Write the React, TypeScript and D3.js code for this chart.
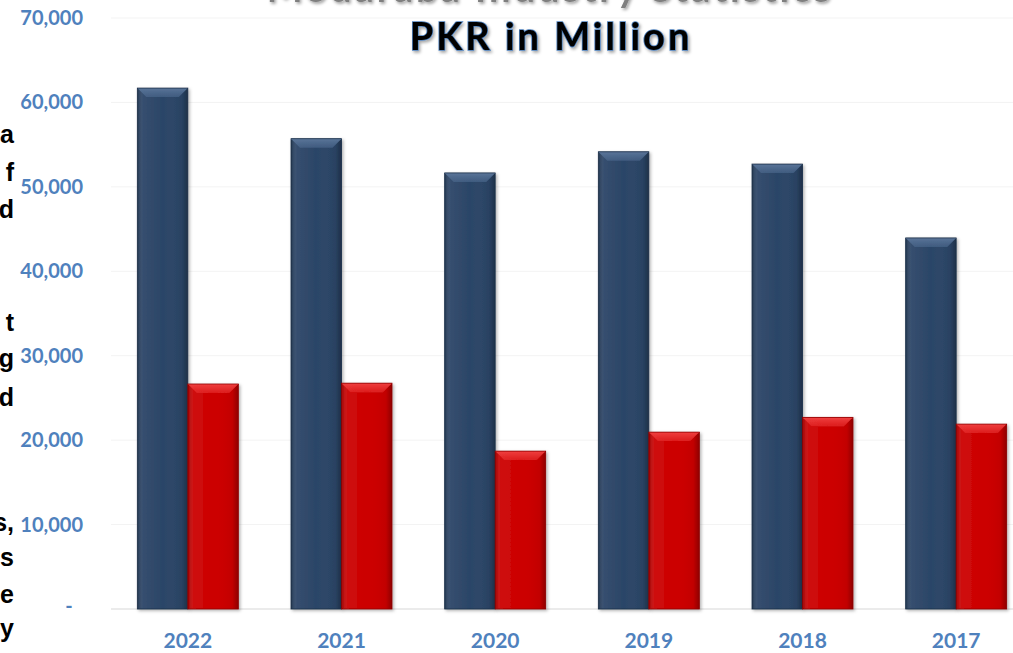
import React, { useEffect } from 'react';
import * as d3 from 'd3';

const years = ['2022', '2021', '2020', '2019', '2018', '2017'];
const seriesA = [61700, 55700, 51650, 54150, 52700, 43950];
const seriesB = [26650, 26750, 18700, 20950, 22700, 21900];
const yTicks = [0, 10000, 20000, 30000, 40000, 50000, 60000, 70000];
const sideLetters = [
  { t: 'a', y: 143 }, { t: 'f', y: 181 }, { t: 'd', y: 218 },
  { t: 't', y: 331 }, { t: 'g', y: 367 }, { t: 'd', y: 406 },
  { t: 's,', y: 531 }, { t: 's', y: 566 }, { t: 'e', y: 603 }, { t: 'y', y: 637 },
];

const W = 1013;
const H = 653;

const Bar = ({ x, y, w, h, base, light, dark, id }) => {
  const b = Math.min(9, w / 5, h / 2);
  return (
    <g filter="url(#barShadow)">
      <rect x={x} y={y} width={w} height={h} fill={base} />
      <rect x={x} y={y} width={w} height={h} fill={`url(#side-${id})`} />
      {/* bevel on the top */}
      <polygon
        points={`${x},${y} ${x + w},${y} ${x + w - b},${y + b} ${x + b},${y + b}`}
        fill={`url(#top-${id})`}
      />
      <line x1={x} x2={x + w} y1={y + 0.5} y2={y + 0.5} stroke={light} strokeWidth={1} />
      <rect x={x} y={y} width={w} height={h} fill="none" stroke={dark} strokeWidth={0.8} />
    </g>
  );
};

export default function App() {
  useEffect(() => {
    document.body.style.margin = '0';
  }, []);

  const x = d3.scaleBand().domain(years).range([111, 1033]);
  const y = d3.scaleLinear().domain([0, 70000]).range([609, 18]);
  const barW = 50.5;

  const fmt = (d) => (d === 0 ? '-' : d3.format(',')(d));

  const colors = {
    a: { base: '#2b4567', light: '#5a7599', dark: '#1b2f48', top: '#4d6a8f' },
    b: { base: '#cc0000', light: '#f04040', dark: '#8c0000', top: '#e83030' },
  };

  return (
    <svg width={W} height={H} style={{ display: 'block' }}>
      <defs>
        <filter id="barShadow" x="-20%" y="-5%" width="140%" height="110%">
          <feDropShadow dx="1.5" dy="1.5" stdDeviation="1.5" floodColor="#000" floodOpacity="0.3" />
        </filter>
        <filter id="textShadow" x="-5%" y="-20%" width="110%" height="150%">
          <feDropShadow dx="1.5" dy="2" stdDeviation="1.5" floodColor="#000" floodOpacity="0.35" />
        </filter>
        {['a', 'b'].map((k) => (
          <React.Fragment key={k}>
            <linearGradient id={`side-${k}`} x1="0" x2="1" y1="0" y2="0">
              <stop offset="0" stopColor="#000" stopOpacity="0.25" />
              <stop offset="0.12" stopColor="#fff" stopOpacity="0.05" />
              <stop offset="0.5" stopColor="#fff" stopOpacity="0" />
              <stop offset="0.88" stopColor="#000" stopOpacity="0.05" />
              <stop offset="1" stopColor="#000" stopOpacity="0.3" />
            </linearGradient>
            <linearGradient id={`top-${k}`} x1="0" x2="0" y1="0" y2="1">
              <stop offset="0" stopColor={colors[k].light} />
              <stop offset="1" stopColor={colors[k].top} stopOpacity="0.6" />
            </linearGradient>
          </React.Fragment>
        ))}
      </defs>
      <rect width={W} height={H} fill="#fff" />

      {/* gridlines */}
      {yTicks.map((t) => (
        <line key={t} x1={111} x2={W} y1={y(t)} y2={y(t)} stroke={t === 0 ? '#e4e4e4' : '#f3f3f3'} strokeWidth={t === 0 ? 1.5 : 1} />
      ))}

      {/* y tick labels */}
      {yTicks.map((t) => (
        <text
          key={t}
          x={83}
          y={y(t)}
          dy={t === 0 ? '0.2em' : '0.35em'}
          textAnchor={t === 0 ? 'middle' : 'end'}
          dx={t === 0 ? -14 : 0}
          fill="#4f81bd"
          fontFamily="Lato, 'Open Sans', sans-serif"
          fontWeight="bold"
          fontSize={20}
        >
          {fmt(t)}
        </text>
      ))}

      {/* bars */}
      {years.map((yr, i) => {
        const cx = x(yr) + x.bandwidth() / 2;
        return (
          <g key={yr}>
            <Bar id="a" x={cx - barW} y={y(seriesA[i])} w={barW} h={y(0) - y(seriesA[i])} {...colors.a} />
            <Bar id="b" x={cx} y={y(seriesB[i])} w={barW} h={y(0) - y(seriesB[i])} {...colors.b} />
          </g>
        );
      })}

      {/* x labels */}
      {years.map((yr) => (
        <text
          key={yr}
          x={x(yr) + x.bandwidth() / 2}
          y={648}
          textAnchor="middle"
          fill="#4f81bd"
          fontFamily="Lato, 'Open Sans', sans-serif"
          fontWeight="bold"
          fontSize={21}
        >
          {yr}
        </text>
      ))}

      {/* title (first line runs off the top, as in the source) */}
      <text
        x={550}
        y={2}
        textAnchor="middle"
        fill="#7f7f7f"
        fontFamily="Lato, sans-serif"
        fontWeight="bold"
        fontSize={38}
        letterSpacing={3}
        filter="url(#textShadow)"
      >
        Modaraba Industry Statistics
      </text>
      <text
        x={551}
        y={50}
        textAnchor="middle"
        fill="#000"
        stroke="#4f81bd"
        strokeWidth={1.6}
        paintOrder="stroke"
        fontFamily="Lato, sans-serif"
        fontWeight="bold"
        fontSize={38}
        letterSpacing={3}
        filter="url(#textShadow)"
      >
        PKR in Million
      </text>

      {/* text cut off from a neighbouring slide element */}
      {sideLetters.map((d, i) => (
        <text
          key={i}
          x={14}
          y={d.y}
          textAnchor="end"
          fill="#000"
          fontFamily="'Liberation Sans', Arial, sans-serif"
          fontWeight="bold"
          fontSize={25}
        >
          {d.t}
        </text>
      ))}
    </svg>
  );
}
